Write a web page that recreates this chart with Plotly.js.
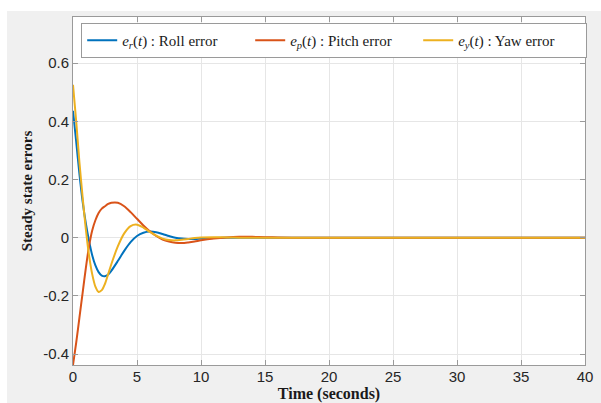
<!DOCTYPE html>
<html>
<head>
<meta charset="utf-8">
<script src="https://cdn.plot.ly/plotly-3.0.1.min.js"></script>
<style>
  html, body { margin: 0; padding: 0; background: #ffffff; }
  #chart { width: 601px; height: 403px; }
</style>
</head>
<body>
<div id="chart"></div>
<script>
// Sample times (s)
const time = [0, 0.25, 0.5, 0.75, 1, 1.25, 1.5, 1.75, 2, 2.25, 2.5, 2.75, 3, 3.5, 4, 4.5, 5,
              5.5, 6, 6.5, 7, 7.5, 8, 8.5, 9, 9.5, 10, 11, 12, 13, 14, 15, 16, 18, 20, 25, 30, 35, 40];

// Roll error e_r(t)
const rollError = [0.436, 0.33, 0.22, 0.125, 0.05, -0.01, -0.06, -0.095, -0.118, -0.13, -0.132, -0.126, -0.113,
                   -0.08, -0.045, -0.015, 0.006, 0.017, 0.021, 0.019, 0.013, 0.006, 0.0, -0.003, -0.004, -0.004,
                   -0.003, -0.001, 0, 0, 0, 0, 0, 0, 0, 0, 0, 0, 0];

// Pitch error e_p(t)
const pitchError = [-0.437, -0.36, -0.275, -0.19, -0.105, -0.03, 0.025, 0.06, 0.085, 0.1, 0.108, 0.116, 0.12,
                    0.12, 0.108, 0.088, 0.065, 0.042, 0.022, 0.006, -0.006, -0.013, -0.017, -0.018, -0.016, -0.013,
                    -0.009, -0.003, 0.001, 0.003, 0.003, 0.002, 0.001, 0, 0, 0, 0, 0, 0];

// Yaw error e_y(t)
const yawError = [0.525, 0.4, 0.26, 0.14, 0.03, -0.06, -0.125, -0.168, -0.186, -0.18, -0.158, -0.125, -0.09,
                  -0.03, 0.015, 0.04, 0.045, 0.035, 0.02, 0.007, -0.003, -0.008, -0.009, -0.007, -0.004, -0.001,
                  0.001, 0.002, 0.001, 0, 0, 0, 0, 0, 0, 0, 0, 0, 0];

const seriesNames = [
  '<i>e</i><sub><i>r</i></sub>(<i>t</i>) : Roll error',
  '<i>e</i><sub><i>p</i></sub>(<i>t</i>) : Pitch error',
  '<i>e</i><sub><i>y</i></sub>(<i>t</i>) : Yaw error'
];
const seriesColors = ['#0072BD', '#D95319', '#EDB120'];

const xTicks = [0, 5, 10, 15, 20, 25, 30, 35, 40];
const yTicks = [-0.4, -0.2, 0, 0.2, 0.4, 0.6];
const yTickText = ['-0.4', '-0.2', '0', '0.2', '0.4', '0.6'];

const seriesValues = [rollError, pitchError, yawError];
const traces = seriesValues.map((vals, i) => ({
  x: time,
  y: vals,
  type: 'scatter',
  mode: 'lines',
  name: seriesNames[i],
  line: { color: seriesColors[i], width: 2, shape: 'spline', smoothing: 0.8 }
}));

const frameColor = '#9a9a9a';
const tickFont = { family: 'Liberation Sans, Arial, sans-serif', size: 15, color: '#262626' };
const titleFont = { family: 'Liberation Serif, Times New Roman, serif', size: 15, color: '#1a1a1a', weight: 'bold' };

const layout = {
  width: 601,
  height: 403,
  margin: { l: 73, r: 16, t: 17, b: 38 },
  paper_bgcolor: '#f0f0f0',
  plot_bgcolor: '#ffffff',
  showlegend: true,
  legend: {
    orientation: 'h',
    x: 0.016, xanchor: 'left',
    y: 0.983, yanchor: 'top',
    bgcolor: '#ffffff',
    bordercolor: frameColor,
    borderwidth: 1,
    font: { family: 'Liberation Serif, Times New Roman, serif', size: 15, color: '#1a1a1a' },
    itemwidth: 30,
    entrywidth: 123,
    tracegroupgap: 0
  },
  xaxis: {
    range: [0, 40],
    tickvals: xTicks,
    ticktext: xTicks.map(String),
    showgrid: true,
    gridcolor: '#e6e6e6',
    zeroline: false,
    showline: true,
    linecolor: frameColor,
    linewidth: 1,
    mirror: 'ticks',
    ticks: 'inside',
    ticklen: 5,
    tickcolor: frameColor,
    tickfont: tickFont,
    ticklabelstandoff: -2,
    title: { text: 'Time (seconds)', font: Object.assign({}, titleFont, { size: 16 }), standoff: 8 }
  },
  yaxis: {
    range: [-0.437, 0.758],
    tickvals: yTicks,
    ticktext: yTickText,
    showgrid: true,
    gridcolor: '#e6e6e6',
    zeroline: false,
    showline: true,
    linecolor: frameColor,
    linewidth: 1,
    mirror: 'ticks',
    ticks: 'inside',
    ticklen: 5,
    tickcolor: frameColor,
    tickfont: tickFont,
    title: { text: 'Steady state errors', font: titleFont, standoff: 6 }
  },
  shapes: [
    // white strips outside the grey figure area
    { type: 'rect', xref: 'paper', yref: 'paper', x0: -0.2, x1: 1.1, y0: 1.017, y1: 1.1,
      fillcolor: '#ffffff', line: { width: 0 }, layer: 'below' },
    { type: 'rect', xref: 'paper', yref: 'paper', x0: -0.2, x1: -0.129, y0: -0.2, y1: 1.1,
      fillcolor: '#ffffff', line: { width: 0 }, layer: 'below' }
  ]
};

Plotly.newPlot('chart', traces, layout, { displayModeBar: false, staticPlot: true });
</script>
</body>
</html>
